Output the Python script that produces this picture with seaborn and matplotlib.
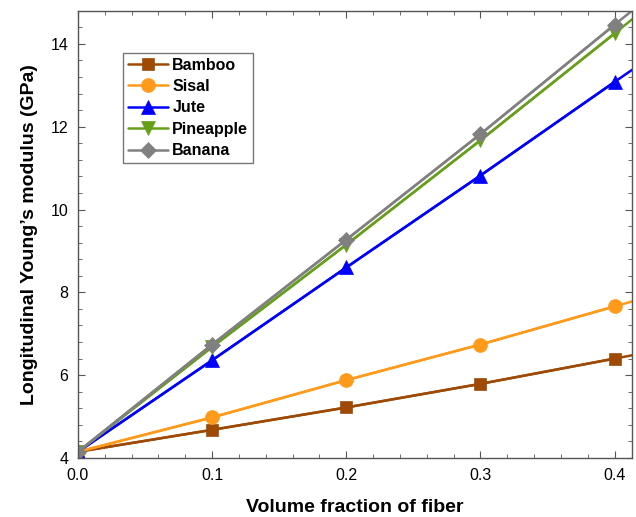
import matplotlib.pyplot as plt
import seaborn as sns
from matplotlib.ticker import MultipleLocator

sns.set_style('ticks')
plt.rcParams['font.family'] = ['Liberation Sans', 'DejaVu Sans']
plt.rcParams['text.color'] = 'black'
plt.rcParams['axes.labelcolor'] = 'black'

# Data
fraction = [0.0, 0.1, 0.2, 0.3, 0.4]
edge_x = 0.413  # the lines run on to the right frame

names = ['Bamboo', 'Sisal', 'Jute', 'Pineapple', 'Banana']
bamboo = [4.15, 4.68, 5.22, 5.79, 6.40]
sisal = [4.15, 4.98, 5.88, 6.74, 7.66]
jute = [4.15, 6.36, 8.60, 10.82, 13.08]
pineapple = [4.15, 6.68, 9.15, 11.67, 14.25]
banana = [4.15, 6.74, 9.27, 11.82, 14.46]
# values where each line meets the right frame
edge_vals = [6.48, 7.78, 13.37, 14.59, 14.80]

colors = ['#9E4A05', '#FF9A1A', '#0000FF', '#66A01A', '#808080']
markers = ['s', 'o', '^', 'v', 'D']
msizes = [9, 10, 10, 10, 8.5]

fig, ax = plt.subplots(figsize=(6.36, 5.17), dpi=100)
fig.subplots_adjust(left=0.1226, right=0.9937, bottom=0.1141, top=0.9793)

series = [bamboo, sisal, jute, pineapple, banana]
for name, vals, edge, c, m, ms in zip(names, series, edge_vals, colors, markers, msizes):
    # extended line to the frame, then markers at the measured points
    sns.lineplot(x=fraction + [edge_x], y=vals + [edge], color=c, lw=1.8, ax=ax)
    sns.lineplot(x=fraction, y=vals, color=c, lw=1.8, marker=m, markersize=ms,
                 markeredgecolor=c, markeredgewidth=0.5, label=name, ax=ax)

ax.set_xlim(0, edge_x)
ax.set_ylim(4, 14.8)
ax.xaxis.set_major_locator(MultipleLocator(0.1))
ax.xaxis.set_minor_locator(MultipleLocator(0.02))
ax.yaxis.set_major_locator(MultipleLocator(2))
ax.yaxis.set_minor_locator(MultipleLocator(0.4))
ax.xaxis.set_major_formatter(plt.FuncFormatter(lambda v, p: f'{v:.1f}'))

ax.tick_params(which='both', direction='in', top=True, right=True, color='#555555',
               labelcolor='black')
ax.tick_params(which='major', length=5, labelsize=11.5, pad=7)
ax.tick_params(which='minor', length=3)
for s in ax.spines.values():
    s.set_color('#555555')
    s.set_linewidth(1.0)

ax.set_xlabel('Volume fraction of fiber', fontsize=14, fontweight='bold', labelpad=12)
ax.set_ylabel('Longitudinal Young\u2019s modulus (GPa)', fontsize=14, fontweight='bold', labelpad=9)

leg = ax.legend(loc='upper left', bbox_to_anchor=(0.081, 0.906), borderaxespad=0,
                fancybox=False, frameon=True, edgecolor='#555555',
                prop={'weight': 'bold', 'size': 11.5}, handlelength=2.5,
                handletextpad=0.3, labelspacing=0.4, borderpad=0.3)
leg.get_frame().set_linewidth(1.0)

fig.savefig('out.png', dpi=100)
